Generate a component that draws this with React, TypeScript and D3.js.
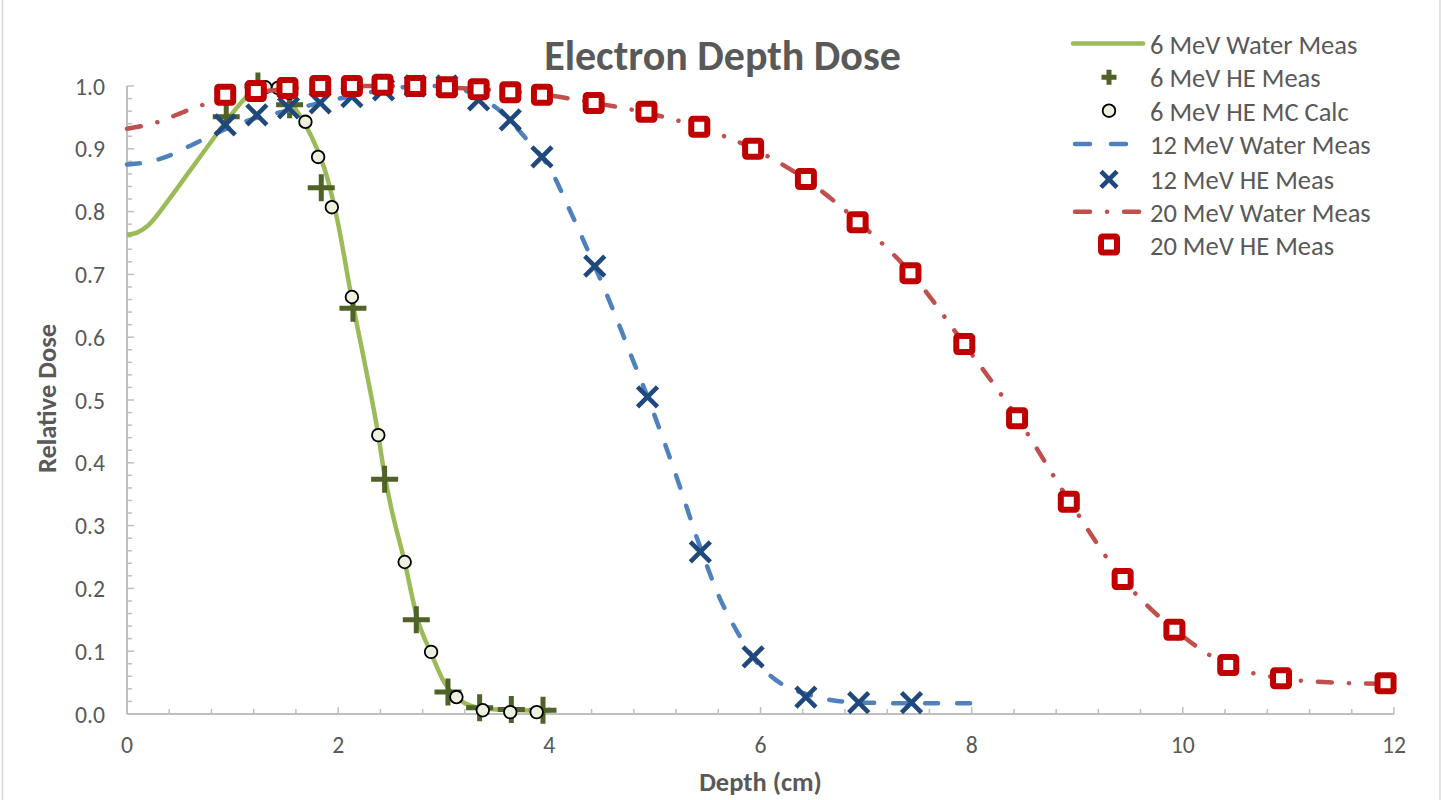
import React from "react";
import * as d3 from "d3";

// ---------- data ----------
const water6X = [0, 0.1, 0.2, 0.4, 0.6, 0.8, 1.0, 1.2, 1.3, 1.4, 1.5, 1.6, 1.7, 1.8, 1.9, 2.0, 2.13, 2.25, 2.38, 2.43, 2.5, 2.63, 2.75, 2.88, 3.0, 3.1, 3.2, 3.3, 3.5, 3.7, 4.0];
const water6Y = [0.763, 0.767, 0.778, 0.82, 0.866, 0.912, 0.957, 0.993, 1.0, 0.998, 0.985, 0.962, 0.935, 0.9, 0.852, 0.78, 0.66, 0.56, 0.444, 0.39, 0.33, 0.242, 0.152, 0.097, 0.052, 0.029, 0.017, 0.011, 0.007, 0.006, 0.005];

const he6X = [0.94, 1.24, 1.54, 1.84, 2.14, 2.44, 2.74, 3.04, 3.34, 3.64, 3.94];
const he6Y = [0.951, 1.0, 0.97, 0.838, 0.646, 0.374, 0.15, 0.035, 0.01, 0.007, 0.006];

const mc6X = [1.21, 1.31, 1.43, 1.54, 1.69, 1.81, 1.94, 2.13, 2.38, 2.63, 2.88, 3.12, 3.37, 3.63, 3.88];
const mc6Y = [0.99, 0.998, 0.997, 0.989, 0.943, 0.887, 0.807, 0.664, 0.444, 0.242, 0.099, 0.027, 0.006, 0.003, 0.003];

const water12X = [0, 0.2, 0.4, 0.6, 0.8, 1.0, 1.2, 1.5, 1.8, 2.1, 2.4, 2.7, 3.0, 3.2, 3.4, 3.6, 3.8, 4.0, 4.2, 4.43, 4.6, 4.8, 4.93, 5.2, 5.43, 5.6, 5.8, 5.93, 6.1, 6.25, 6.43, 6.68, 7.0, 7.5, 8.0];
const water12Y = [0.875, 0.879, 0.889, 0.905, 0.921, 0.936, 0.948, 0.96, 0.972, 0.983, 0.993, 0.999, 1.0, 0.993, 0.977, 0.95, 0.912, 0.87, 0.8, 0.713, 0.645, 0.56, 0.505, 0.38, 0.265, 0.19, 0.125, 0.09, 0.06, 0.043, 0.032, 0.022, 0.018, 0.017, 0.017];

const he12X = [0.93, 1.23, 1.53, 1.83, 2.13, 2.43, 2.73, 3.03, 3.33, 3.63, 3.93, 4.43, 4.93, 5.43, 5.93, 6.43, 6.93, 7.43];
const he12Y = [0.938, 0.954, 0.965, 0.973, 0.983, 0.994, 1.0, 1.0, 0.978, 0.946, 0.887, 0.713, 0.505, 0.258, 0.091, 0.027, 0.018, 0.018];

const water20X = [0, 0.3, 0.6, 1.0, 1.5, 2.0, 2.5, 3.0, 3.5, 4.0, 4.43, 4.93, 5.43, 5.93, 6.43, 6.93, 7.43, 7.93, 8.43, 8.93, 9.43, 9.93, 10.43, 10.93, 11.43, 11.93];
const water20Y = [0.932, 0.943, 0.963, 0.984, 0.995, 1.0, 1.0, 0.998, 0.993, 0.985, 0.973, 0.957, 0.934, 0.9, 0.851, 0.783, 0.701, 0.589, 0.472, 0.338, 0.215, 0.133, 0.078, 0.057, 0.05, 0.048];

const he20X = [0.93, 1.22, 1.52, 1.83, 2.13, 2.42, 2.73, 3.03, 3.33, 3.63, 3.93, 4.42, 4.92, 5.42, 5.93, 6.43, 6.92, 7.42, 7.93, 8.43, 8.92, 9.43, 9.92, 10.43, 10.93, 11.92];
const he20Y = [0.986, 0.992, 0.997, 1.0, 1.0, 1.002, 1.0, 0.998, 0.995, 0.99, 0.986, 0.973, 0.959, 0.935, 0.9, 0.852, 0.783, 0.702, 0.589, 0.471, 0.338, 0.215, 0.134, 0.078, 0.057, 0.049];

const xTicks = [0, 2, 4, 6, 8, 10, 12];
const yTicks = [0, 0.1, 0.2, 0.3, 0.4, 0.5, 0.6, 0.7, 0.8, 0.9, 1.0];

const legendLabels = [
  "6 MeV Water Meas",
  "6 MeV HE Meas",
  "6 MeV HE MC Calc",
  "12 MeV Water Meas",
  "12 MeV HE Meas",
  "20 MeV Water Meas",
  "20 MeV HE Meas",
];

// ---------- styling ----------
const FONT = "Carlito, Lato, 'Open Sans', sans-serif";
const TXT = "#595959";
const AXIS = "#BFBFBF";
const GREEN = "#9BBB59";
const OLIVE = "#4F6228";
const BLUE = "#4F81BD";
const NAVY = "#1F497D";
const RED = "#C0504D";
const DARKRED = "#C00000";

const zip = (xs: number[], ys: number[]) => xs.map((x, i) => [x, ys[i]] as [number, number]);

export default function App() {
  const x = d3.scaleLinear().domain([0, 12]).range([127, 1394]);
  const y = d3.scaleLinear().domain([0, 1]).range([714, 86]);

  const line = d3
    .line<[number, number]>()
    .x((d) => x(d[0]))
    .y((d) => y(d[1]))
    .curve(d3.curveMonotoneX);

  const minorX = d3.range(0, 12.0001, 0.4);
  const minorY = d3.range(0, 1.0001, 0.02);

  const plus = (s: number) => `M${-s},0H${s}M0,${-s}V${s}`;
  const cross = (s: number) => `M${-s},${-s}L${s},${s}M${-s},${s}L${s},${-s}`;

  const Plus = ({ cx, cy, s = 13.5 }: any) => (
    <path transform={`translate(${cx},${cy})`} d={plus(s)} stroke={OLIVE} strokeWidth={5} fill="none" />
  );
  const Circ = ({ cx, cy }: any) => (
    <circle cx={cx} cy={cy} r={6.3} fill="#EBF1DE" stroke="#000" strokeWidth={1.8} />
  );
  const Cross = ({ cx, cy, s = 10 }: any) => (
    <path transform={`translate(${cx},${cy})`} d={cross(s)} stroke={NAVY} strokeWidth={4.6} fill="none" />
  );
  const Sq = ({ cx, cy }: any) => (
    <rect x={cx - 8} y={cy - 8} width={16} height={16} rx={1.5} fill="#fff" stroke={DARKRED} strokeWidth={6} />
  );

  const legX = 1073;
  const legX2 = 1143;
  const legMid = 1109;
  const legTextX = 1150;
  const legRows = [43.5, 77.3, 110.7, 144, 179.3, 211.7, 244.5];

  return (
    <div style={{ position: "fixed", left: 0, top: 0 }}>
      <svg width={1442} height={800} style={{ display: "block", background: "#fff" }} fontFamily={FONT}>
        <rect x={0} y={0} width={1442} height={800} fill="#fff" />
        {/* chart border */}
        <line x1={2.5} x2={2.5} y1={0} y2={800} stroke="#D9D9D9" strokeWidth={1.5} />
        <line x1={1440} x2={1440} y1={0} y2={800} stroke="#D9D9D9" strokeWidth={1.5} />

        {/* title */}
        <text x={722.5} y={69.5} textAnchor="middle" fontSize={42} fontWeight={700} fill={TXT}>
          Electron Depth Dose
        </text>

        {/* axes */}
        <line x1={x(0)} x2={x(12)} y1={y(0)} y2={y(0)} stroke={AXIS} strokeWidth={2} />
        <line x1={x(0)} x2={x(0)} y1={y(0)} y2={y(1)} stroke={AXIS} strokeWidth={2} />
        {minorX.map((v, i) => (
          <line key={"mx" + i} x1={x(v)} x2={x(v)} y1={y(0)} y2={y(0) - (i % 5 === 0 ? 7 : 5)} stroke={AXIS} strokeWidth={1.5} />
        ))}
        {minorY.map((v, i) => (
          <line key={"my" + i} x1={x(0)} x2={x(0) + (i % 5 === 0 ? 7 : 5)} y1={y(v)} y2={y(v)} stroke={AXIS} strokeWidth={1.5} />
        ))}
        {xTicks.map((t) => (
          <text key={"xt" + t} x={x(t)} y={752.7} textAnchor="middle" fontSize={23.7} fill={TXT}>
            {t}
          </text>
        ))}
        {yTicks.map((t) => (
          <text key={"yt" + t} x={105} y={y(t) + 8.5} textAnchor="end" fontSize={23.7} fill={TXT}>
            {t.toFixed(1)}
          </text>
        ))}
        <text x={760.5} y={791} textAnchor="middle" fontSize={26.5} fontWeight={700} fill={TXT}>
          Depth (cm)
        </text>
        <text transform={`translate(56,398.5) rotate(-90)`} textAnchor="middle" fontSize={26.5} fontWeight={700} fill={TXT}>
          Relative Dose
        </text>

        {/* series */}
        <path d={line(zip(water6X, water6Y)) || ""} fill="none" stroke={GREEN} strokeWidth={4.5} />
        {he6X.map((v, i) => (
          <Plus key={"p" + i} cx={x(v)} cy={y(he6Y[i])} />
        ))}
        {mc6X.map((v, i) => (
          <Circ key={"c" + i} cx={x(v)} cy={y(mc6Y[i])} />
        ))}
        <path
          d={line(zip(water12X, water12Y)) || ""}
          fill="none"
          stroke={BLUE}
          strokeWidth={4.5}
          strokeDasharray="13 19"
          strokeLinecap="round"
        />
        {he12X.map((v, i) => (
          <Cross key={"x" + i} cx={x(v)} cy={y(he12Y[i])} />
        ))}
        <path
          d={line(zip(water20X, water20Y)) || ""}
          fill="none"
          stroke={RED}
          strokeWidth={4.5}
          strokeDasharray="14 17 0.1 17"
          strokeLinecap="round"
        />
        {he20X.map((v, i) => (
          <Sq key={"s" + i} cx={x(v)} cy={y(he20Y[i])} />
        ))}

        {/* legend */}
        <line x1={legX} x2={legX2} y1={legRows[0]} y2={legRows[0]} stroke={GREEN} strokeWidth={4.5} strokeLinecap="round" />
        <Plus cx={legMid} cy={legRows[1]} s={7.5} />
        <Circ cx={legMid} cy={legRows[2]} />
        <line x1={legX + 2} x2={legX2} y1={legRows[3]} y2={legRows[3]} stroke={BLUE} strokeWidth={4.5} strokeLinecap="round" strokeDasharray="15 21" />
        <Cross cx={legMid} cy={legRows[4]} s={8} />
        <line x1={legX + 2} x2={legX2} y1={legRows[5]} y2={legRows[5]} stroke={RED} strokeWidth={4.5} strokeLinecap="round" strokeDasharray="15 17 0.1 17" />
        <Sq cx={legMid} cy={legRows[6]} />
        {legendLabels.map((l, i) => (
          <text key={"lg" + i} x={legTextX} y={legRows[i] + 10} fontSize={26.5} fill={TXT}>
            {l}
          </text>
        ))}
      </svg>
    </div>
  );
}
